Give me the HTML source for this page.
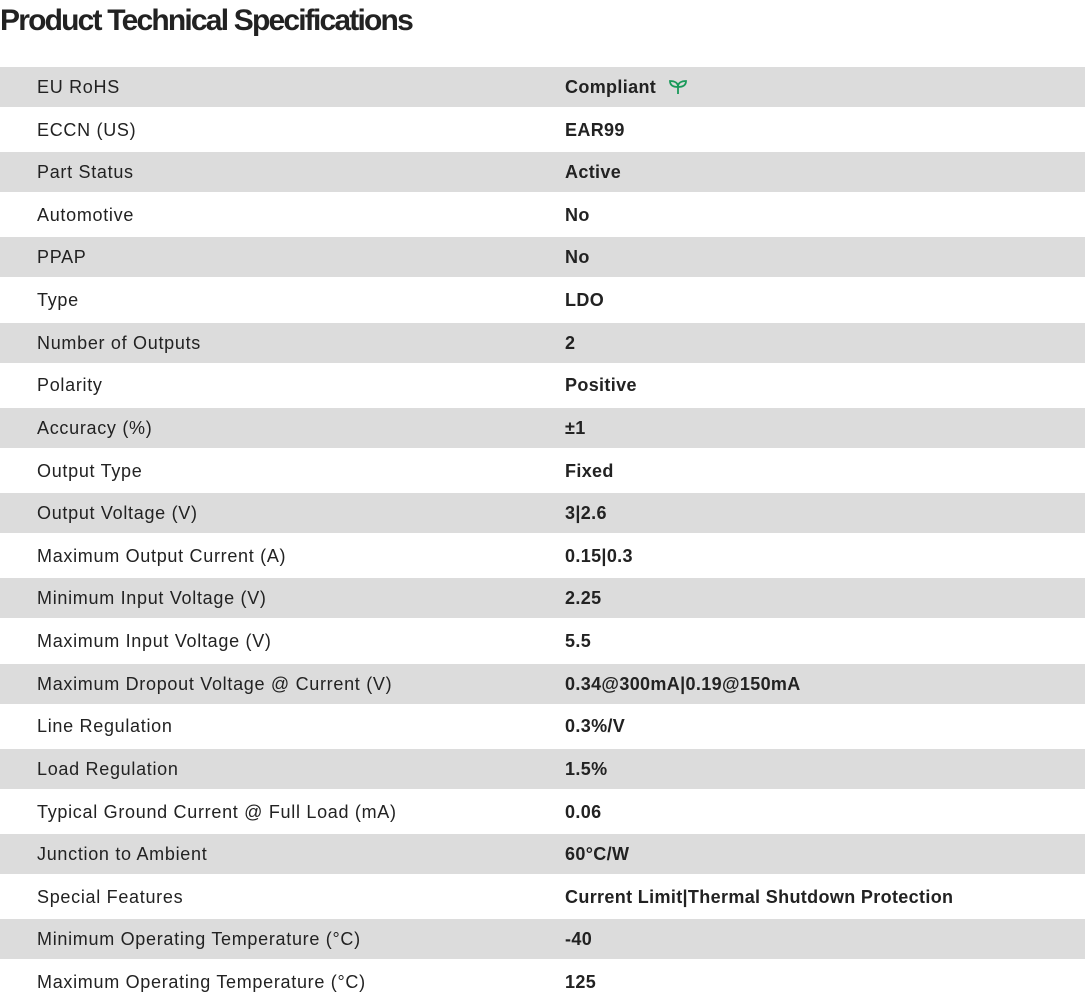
<!DOCTYPE html>
<html><head><meta charset="utf-8"><style>
body{margin:0;width:1085px;height:998px;background:#fff;position:relative;overflow:hidden;font-family:"Liberation Sans",sans-serif;color:#222;}
h1{position:absolute;left:0;top:4px;margin:0;font-size:30px;font-weight:bold;letter-spacing:-1.8px;color:#222;}
.r{position:absolute;left:0;width:1085px;font-size:18px;}
.s{background:#dcdcdc;}
.l{position:absolute;left:37px;letter-spacing:0.7px;}
.v{position:absolute;left:565px;font-weight:bold;letter-spacing:0.35px;}
</style></head><body>
<h1>Product Technical Specifications</h1>
<div id="t"></div>
<script>
var d=[["EU RoHS","Compliant"],["ECCN (US)","EAR99"],["Part Status","Active"],["Automotive","No"],["PPAP","No"],["Type","LDO"],["Number of Outputs","2"],["Polarity","Positive"],["Accuracy (%)","±1"],["Output Type","Fixed"],["Output Voltage (V)","3|2.6"],["Maximum Output Current (A)","0.15|0.3"],["Minimum Input Voltage (V)","2.25"],["Maximum Input Voltage (V)","5.5"],["Maximum Dropout Voltage @ Current (V)","0.34@300mA|0.19@150mA"],["Line Regulation","0.3%/V"],["Load Regulation","1.5%"],["Typical Ground Current @ Full Load (mA)","0.06"],["Junction to Ambient","60°C/W"],["Special Features","Current Limit|Thermal Shutdown Protection"],["Minimum Operating Temperature (°C)","-40"],["Maximum Operating Temperature (°C)","125"]];
var h="";
for(var i=0;i<d.length;i++){
 var c=87+i*42.62;
 if(i%2==0) h+='<div class="r s" style="top:'+(c-20)+'px;height:40px"></div>';
 var v=d[i][1];
 if(i==0) v+=' <svg width="20" height="16" viewBox="0 0 20 16" style="vertical-align:-2px;margin-left:6px"><path d="M10 15V8M10 8C10 4 7 2 2 2C2 6 5 8 10 8ZM10 8C10 4 13 2 18 2C18 6 15 8 10 8Z" fill="none" stroke="#1a9a5a" stroke-width="1.8"/></svg>';
 h+='<div class="r" style="top:'+(c-11)+'px;height:22px;line-height:22px"><span class="l">'+d[i][0]+'</span><span class="v">'+v+'</span></div>';
}
document.getElementById("t").innerHTML=h;
</script>
</body></html>
